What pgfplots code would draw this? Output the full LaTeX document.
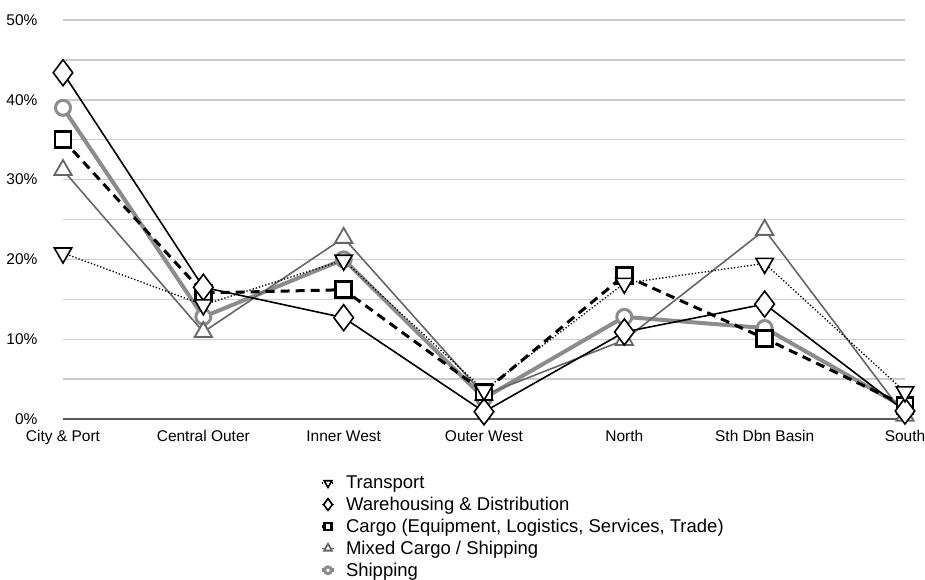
\documentclass[border=0pt]{standalone}
\usepackage{pgfplots}
\pgfplotsset{compat=1.18}
\usepackage{fontspec}
\setmainfont{Liberation Sans}

\definecolor{gridgray}{HTML}{CCCCCC}
\definecolor{midgray}{HTML}{666666}
\definecolor{shipgray}{HTML}{8C8C8C}

\begin{document}
\begin{tikzpicture}
\begin{axis}[
    at={(0pt,0pt)}, anchor=origin,
    scale only axis,
    width=842pt, height=399pt,
    xmin=0, xmax=6, ymin=0, ymax=50,
    clip=false,
    axis x line*=bottom, axis y line*=left,
    x axis line style={draw=black!65, line width=1.6pt},
    y axis line style={draw=none},
    xtick={0,...,6},
    xticklabels={City \& Port, Central Outer, Inner West, Outer West, North, Sth Dbn Basin, South},
    ytick={0,10,...,50},
    minor ytick={5,15,...,45},
    yticklabel={\pgfmathprintnumber{\tick}\%},
    /pgf/number format/assume math mode=true,
    major tick length=0pt, minor tick length=0pt,
    ymajorgrids, yminorgrids,
    major grid style={gridgray, line width=1.4pt},
    minor grid style={gridgray, line width=1.4pt},
    tick label style={font=\fontsize{15.5}{17}\selectfont},
    xticklabel style={yshift=-8pt},
    yticklabel style={xshift=-22pt},
    reverse legend,
    legend cell align=left,
    legend style={draw=none, fill=none, at={(0.305,-0.137)}, anchor=north west,
        font=\fontsize{18.5}{18.5}\selectfont, row sep=3pt, inner sep=0pt},
    legend image code/.code={
        \draw[mark repeat=2, mark phase=2, every mark/.append style={scale=0.45}]
        plot coordinates {(0pt,0pt) (6pt,0pt) (12pt,0pt)};
        \path (20pt,0pt);},
]
% Shipping
\addplot[shipgray, line width=4pt, mark=*, mark size=7.5pt,
    mark options={fill=white, draw=shipgray, line width=3pt, solid}]
    coordinates {(0,39.0) (1,12.8) (2,20.0) (3,2.6) (4,12.8) (5,11.4) (6,1.4)};
\addlegendentry{Shipping}
% Mixed Cargo / Shipping
\addplot[midgray, line width=1.6pt, mark=triangle*, mark size=10pt,
    mark options={fill=white, draw=midgray, line width=1.8pt, solid}]
    coordinates {(0,31.2) (1,10.9) (2,22.7) (3,3.0) (4,9.9) (5,23.7) (6,0.4)};
\addlegendentry{Mixed Cargo / Shipping}
% Cargo
\addplot[black, line width=3pt, dash pattern=on 9pt off 6pt, mark=square*, mark size=8pt,
    mark options={fill=white, draw=black, line width=2.6pt, solid}]
    coordinates {(0,35.0) (1,15.8) (2,16.2) (3,3.4) (4,18.0) (5,10.1) (6,1.7)};
\addlegendentry{Cargo (Equipment, Logistics, Services, Trade)}
% Warehousing & Distribution
\addplot[black, line width=1.6pt, mark=diamond*, mark size=13pt,
    mark options={fill=white, draw=black, line width=1.6pt, solid}]
    coordinates {(0,43.4) (1,16.5) (2,12.7) (3,0.9) (4,10.9) (5,14.4) (6,1.0)};
\addlegendentry{Warehousing \& Distribution}
% Transport
\addplot[black, line width=1.3pt, dotted, mark=triangle*, mark size=10pt,
    mark options={fill=white, draw=black, line width=1.6pt, solid, rotate=180}]
    coordinates {(0,20.8) (1,14.3) (2,19.9) (3,3.6) (4,17.0) (5,19.5) (6,3.4)};
\addlegendentry{Transport}
\end{axis}
\pgfresetboundingbox
\path (-63pt,-160pt) rectangle (862pt,419pt);
\end{tikzpicture}
\end{document}
